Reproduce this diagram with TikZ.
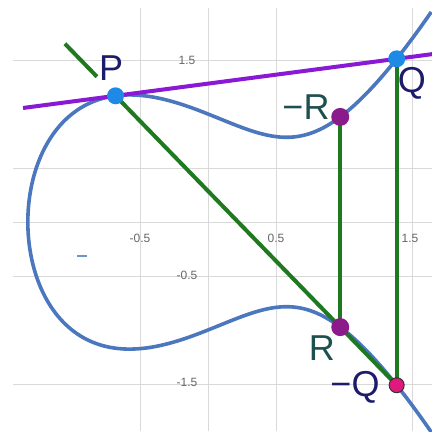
\documentclass[tikz,border=0pt]{standalone}
\usepackage{fontspec}
\setmainfont{Liberation Sans}
\usepackage{tikz}
\usetikzlibrary{calc}
\definecolor{curveblue}{HTML}{4B77BE}
\definecolor{chordgreen}{HTML}{1F7A1F}
\definecolor{tanviolet}{HTML}{8A19D6}
\definecolor{ptblue}{HTML}{1E8AE6}
\definecolor{ptpurple}{HTML}{8B1A8B}
\definecolor{ptpink}{HTML}{E0197D}
\definecolor{navylbl}{HTML}{1C1C6B}
\definecolor{teallbl}{HTML}{1F5050}

\begin{document}
\begin{tikzpicture}[x=136pt, y=108pt,
    gridline/.style={gray!30, line width=0.9pt},
    ticklbl/.style={text=black!60, font=\fontsize{12}{12}\selectfont, inner sep=0pt},
    biglbl/.style={font=\fontsize{36}{36}\selectfont, inner sep=0pt},
    dot/.style={circle, inner sep=0pt, minimum size=17pt}]
    \useasboundingbox[fill=white] (-1.5294,-1.9352) rectangle (1.6471,2.0556);

    % Grid
    \foreach \gx in {-0.5, 0, 0.5, 1.5}
        \draw[gridline] (\gx, 1.98) -- (\gx, -1.9352);
    \foreach \gy in {1.5, 0.5, 0, -0.5, -1.5}
        \draw[gridline] (-1.434, \gy) -- (1.6471, \gy);

    % Tick labels
    \node[ticklbl] (xa) at (-0.5, -0.148) {-0.5};
    \node[ticklbl] (xb) at (0.5, -0.148) {0.5};
    \node[ticklbl] (xc) at (1.485, -0.148) {1.5};
    \node[ticklbl] (ya) at (-0.154, 1.5) {1.5};
    \node[ticklbl] (yb) at (-0.154, -0.49) {-0.5};
    \node[ticklbl] (yc) at (-0.154, -1.49) {-1.5};
    \draw[curveblue!80, line width=1.2pt] (-0.963, -0.315) -- (-0.889, -0.315);

    % Curve y^2 = x^3 - x + 1
    \draw[curveblue, line width=3.6pt, smooth, samples=240, domain=-1.724:1.724]
        plot ({-1.324718+\x*\x}, {\x*sqrt(4.264634-3.974154*\x*\x+\x*\x*\x*\x)});

    % Points
    \coordinate (P) at (-0.68, 1.16857);
    \coordinate (Q) at (1.38745, 1.51108);
    \coordinate (mQ) at (1.38745, -1.51108);
    \coordinate (R) at (0.97245, -0.97319);
    \coordinate (mR) at (0.97245, 0.97319);
    \coordinate (tanL) at (-1.36, 1.05592);
    \coordinate (tanR) at (1.6471, 1.55410);
    \coordinate (s1) at ($(P)!-0.18!(mQ)$);
    \coordinate (s2) at ($(P)!-0.066!(mQ)$);

    % Tangent at P
    \draw[tanviolet, line width=4pt] (tanL) -- (tanR);

    % Chords
    \draw[chordgreen, line width=4pt] (s1) -- (s2);
    \draw[chordgreen, line width=4pt] (P) -- (mQ);
    \draw[chordgreen, line width=4pt] (mR) -- (R);
    \draw[chordgreen, line width=4pt] (Q) -- (mQ);

    % Dots
    \node[dot, fill=ptblue] (dP) at (P) {};
    \node[dot, fill=ptblue] (dQ) at (Q) {};
    \node[dot, fill=ptpurple, minimum size=18pt] (dmR) at (mR) {};
    \node[dot, fill=ptpurple, minimum size=18pt] (dR) at (R) {};
    \node[dot, fill=ptpink, draw=black!80, line width=1pt, minimum size=15pt] (dmQ) at (mQ) {};

    % Labels
    \node[biglbl, text=navylbl] (lP) at (-0.713, 1.426) {P};
    \node[biglbl, text=navylbl] (lQ) at (1.5, 1.28) {Q};
    \node[biglbl, text=teallbl] (lmR) at (0.7206, 1.0648) {−R};
    \node[biglbl, text=teallbl] (lR) at (0.838, -1.1667) {R};
    \node[biglbl, text=navylbl] (lmQ) at (1.081, -1.53) {−Q};
\end{tikzpicture}
\end{document}
